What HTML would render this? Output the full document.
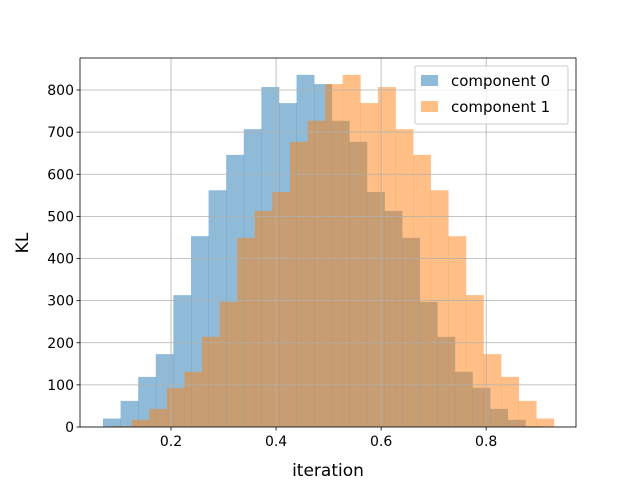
<!DOCTYPE html>
<html><head><meta charset="utf-8"><style>body{margin:0;background:#fff}svg{display:block}text{font-family:"DejaVu Sans","Liberation Sans",sans-serif;fill:#000}</style></head>
<body>
<svg id="chart" width="640" height="480" viewBox="0 0 640 480">
<g id="bars"></g><g id="grid"></g><g id="axes"></g>
</svg>
<script>
const comp0Counts=[20,62,119,173,313,453,562,646,707,807,769,836,814,727,677,558,513,449,297,214,131,93,43,17,2];
const comp1Counts=[2,17,43,93,131,214,297,449,513,558,677,727,814,836,769,807,707,646,562,453,313,173,119,62,20];
const comp0Start=0.0705, comp1Start=0.0914, binWidth=0.0335;
const xTicks=[0.2,0.4,0.6,0.8];
const yTicks=[0,100,200,300,400,500,600,700,800];
const L=80,R=576,T=58,B=427,xmin=0.0267,xmax=0.971,ymax=876;
const sx=v=>L+(v-xmin)/(xmax-xmin)*(R-L);
const sy=v=>B-v/ymax*(B-T);
const NS="http://www.w3.org/2000/svg";
function mk(tag,attrs,parent){const e=document.createElementNS(NS,tag);for(const k in attrs)e.setAttribute(k,attrs[k]);parent.appendChild(e);return e;}
const bars=document.getElementById('bars'),grid=document.getElementById('grid'),axes=document.getElementById('axes');
function drawSeries(counts,start,color,name){counts.forEach((c,i)=>{const x0=sx(start+i*binWidth),x1=sx(start+(i+1)*binWidth);const r=mk('rect',{x:x0,y:sy(c),width:x1-x0+0.3,height:B-sy(c),fill:color,'fill-opacity':0.5},bars);

});}
drawSeries(comp0Counts,comp0Start,'#1f77b4','component-0');
drawSeries(comp1Counts,comp1Start,'#ff7f0e','component-1');
xTicks.forEach(t=>{const x=sx(t);const g=mk('line',{x1:x,x2:x,y1:T,y2:B,stroke:'#b0b0b0','stroke-width':0.8},grid);


mk('line',{x1:x,x2:x,y1:B,y2:B+3.5,stroke:'#000','stroke-width':0.8},axes);
const tx=mk('text',{x:x,y:B+19,'text-anchor':'middle','font-size':14},axes);tx.textContent=t.toFixed(1);

});
yTicks.forEach(t=>{const y=sy(t);const g=mk('line',{x1:L,x2:R,y1:y,y2:y,stroke:'#b0b0b0','stroke-width':0.8},grid);


mk('line',{x1:L-3.5,x2:L,y1:y,y2:y,stroke:'#000','stroke-width':0.8},axes);
const tx=mk('text',{x:L-6,y:y+5,'text-anchor':'end','font-size':14},axes);tx.textContent=t;

});
const fr=mk('rect',{x:L,y:T,width:R-L,height:B-T,fill:'none',stroke:'#000','stroke-width':0.8},axes);


</script>
<svg style="position:absolute;left:0;top:0" width="640" height="480">
<text x="328" y="476" text-anchor="middle" font-size="17">iteration</text>
<text transform="translate(28,243) rotate(-90)" text-anchor="middle" font-size="17">KL</text>
<g>
<rect x="415" y="66" width="153" height="58" rx="2" fill="#fff" fill-opacity="0.8" stroke="#ccc"/>
<rect x="421" y="75" width="17" height="11" fill="#1f77b4" fill-opacity="0.5"/>
<text x="451" y="86" font-size="15">component 0</text>
<rect x="421" y="101" width="17" height="11" fill="#ff7f0e" fill-opacity="0.5"/>
<text x="451" y="112" font-size="15">component 1</text>
</g>
</svg>
</body></html>
